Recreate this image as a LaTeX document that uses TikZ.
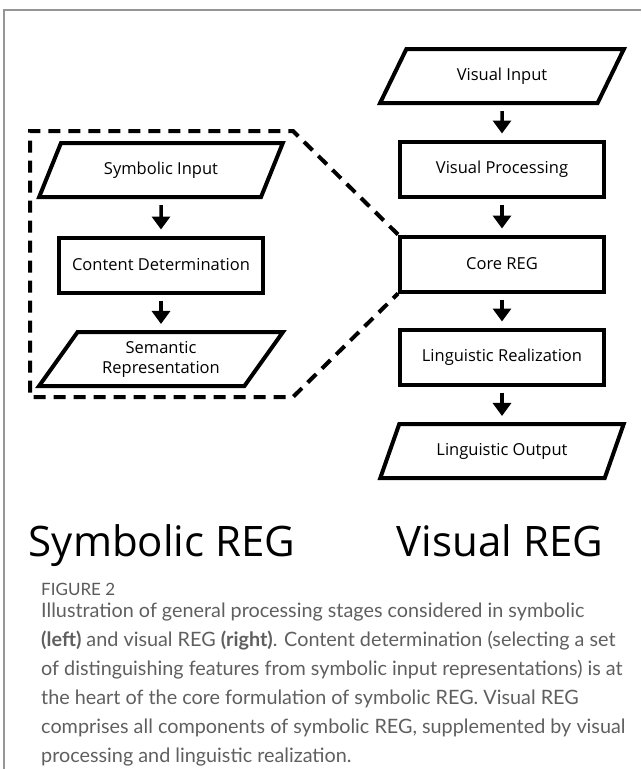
\documentclass[tikz,border=0pt]{standalone}
\usepackage{fontspec}
\setmainfont{Open Sans}
\newfontfamily\capfont{Lato}
\usetikzlibrary{shapes.geometric, arrows.meta}
\definecolor{framegray}{RGB}{150,150,150}
\definecolor{captext}{RGB}{95,95,95}
\definecolor{labeltext}{RGB}{90,90,90}

\begin{document}
\begin{tikzpicture}[x=1pt, y=-1pt,
  stagebox/.style={draw, line width=4pt, rectangle, minimum width=204pt,
    minimum height=55pt, inner sep=0pt, align=center,
    font=\fontsize{16.5}{20}\selectfont},
  databox/.style={draw, line width=4pt, trapezium, trapezium left angle=53,
    trapezium right angle=127, trapezium stretches=true, minimum width=244pt,
    minimum height=54pt, inner sep=0pt, align=center,
    font=\fontsize{16.5}{20}\selectfont},
  flow/.style={-{Triangle[length=13pt, width=18pt]}, line width=3.5pt,
    shorten <=6pt, shorten >=6pt},
  groupline/.style={line width=4pt, dash pattern=on 12pt off 8pt},
  bigtitle/.style={anchor=base, inner sep=0pt, font=\fontsize{42}{50}\selectfont},
  caplabel/.style={anchor=base west, inner sep=0pt, text=labeltext,
    font=\capfont\fontsize{17}{20}\selectfont},
  captionbody/.style={anchor=north west, inner sep=0pt, align=left, text=captext,
    font=\capfont\fontsize{19.8}{29}\selectfont}
]
\useasboundingbox (0,0) rectangle (641,769);

% page frame
\draw[framegray, line width=2pt] (4,769) -- (4,10) -- (641,10);

% symbolic pipeline (left)
\node[databox]  (symin)  at (161,170) {Symbolic Input};
\node[stagebox] (content) at (161,265) {Content Determination};
\node[databox]  (sem)    at (161,359) {Semantic\\Representation};

% visual pipeline (right)
\node[databox]  (visin)  at (502,76)  {Visual Input};
\node[stagebox] (visproc) at (502,169) {Visual Processing};
\node[stagebox] (core)   at (502,264) {Core REG};
\node[stagebox] (ling)   at (502,357) {Linguistic Realization};
\node[databox]  (lingout) at (502,451) {Linguistic Output};

\draw[flow] (symin) -- (content);
\draw[flow] (content) -- (sem);
\draw[flow] (visin) -- (visproc);
\draw[flow] (visproc) -- (core);
\draw[flow] (core) -- (ling);
\draw[flow] (ling) -- (lingout);

% dashed outline: symbolic REG expands into the core stage
\coordinate (gtr) at (293,131);
\coordinate (gtl) at (30,131);
\coordinate (gbl) at (30,397);
\coordinate (gbr) at (293,397);
\draw[groupline] (core.north west) -- (gtr) -- (gtl) -- (gbl) -- (gbr) -- (core.south west);

% titles
\node[bigtitle] (symtitle) at (162,556) {Symbolic REG};
\node[bigtitle] (vistitle) at (500,556) {Visual REG};

% caption
\node[caplabel] (figlabel) at (41,595) {FIGURE 2};
\node[captionbody] (captext) at (41,603) {Illustration of general processing stages considered in symbolic\\
\textbf{(left)} and visual REG \textbf{(right)}. Content determination (selecting a set\\
of distinguishing features from symbolic input representations) is at\\
the heart of the core formulation of symbolic REG. Visual REG\\
comprises all components of symbolic REG, supplemented by visual\\
processing and linguistic realization.};
\end{tikzpicture}
\end{document}
